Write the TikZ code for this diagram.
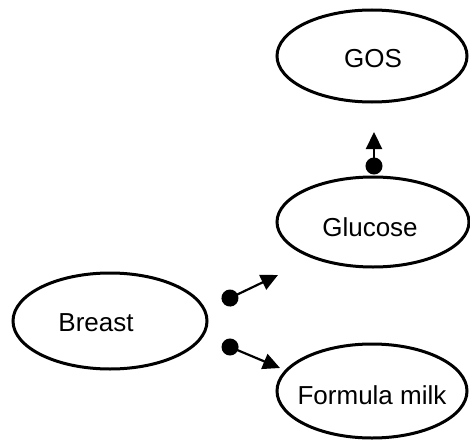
\documentclass[tikz,border=0pt]{standalone}
\usepackage{fontspec}
\setmainfont{Liberation Sans}
\usetikzlibrary{shapes.geometric,arrows.meta}
\tikzset{
  oval/.style={ellipse, draw=black, line width=3pt, inner sep=0pt},
  lbl/.style={font=\fontsize{26}{30}\selectfont, inner sep=0pt},
  link/.style={line width=2.2pt, {Circle[length=17pt]}-{Triangle[length=17pt,width=16pt]}}
}
\begin{document}
\begin{tikzpicture}[x=1pt,y=-1pt]
\useasboundingbox (0,0) rectangle (470,441);
\node[oval, minimum width=190pt, minimum height=92pt,
      label={[lbl, xshift=1pt, yshift=-3pt]center:GOS}] (gos) at (372,56) {};
\node[oval, minimum width=192pt, minimum height=90pt,
      label={[lbl, xshift=-3pt, yshift=-5pt]center:Glucose}] (glucose) at (373,222) {};
\node[oval, minimum width=194pt, minimum height=96pt,
      label={[lbl, xshift=-14pt, yshift=-2pt]center:Breast}] (breast) at (110,321) {};
\node[oval, minimum width=190pt, minimum height=94pt,
      label={[lbl, xshift=0pt, yshift=-4pt]center:Formula milk}] (formula) at (372,391) {};
\coordinate (g1) at (374,174.5);
\coordinate (g2) at (374,132);
\coordinate (b1) at (222.3,301.7);
\coordinate (b2) at (278,275);
\coordinate (f1) at (222.2,343.7);
\coordinate (f2) at (280,368);
\draw[link] (g1) -- (g2);
\draw[link] (b1) -- (b2);
\draw[link] (f1) -- (f2);
\end{tikzpicture}
\end{document}
